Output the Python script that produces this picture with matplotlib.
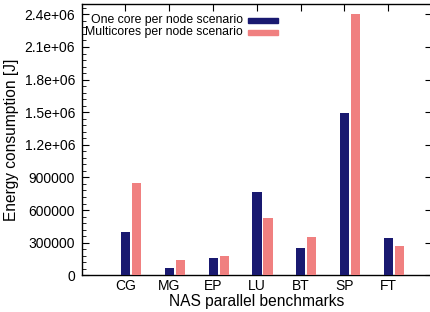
import numpy as np
import matplotlib
matplotlib.use('Agg')
import matplotlib.pyplot as plt
from matplotlib.patches import Rectangle

plt.rcParams['font.family'] = ['Liberation Sans', 'DejaVu Sans']

benchmarks = ['CG', 'MG', 'EP', 'LU', 'BT', 'SP', 'FT']
one_core = [400000, 67000, 159000, 767000, 251000, 1494000, 343000]
multi_core = [850000, 141000, 178000, 528000, 353000, 2400000, 270000]
series_names = ['One core per node scenario', 'Multicores per node scenario']
colors = ['#191970', '#f08080']

yticks = [0, 300000, 600000, 900000, 1200000, 1500000, 1800000, 2100000, 2400000]
ylabels = ['0', '300000', '600000', '900000', '1.2e+06', '1.5e+06',
           '1.8e+06', '2.1e+06', '2.4e+06']

fig = plt.figure(figsize=(4.3, 3.12), dpi=100)
ax = fig.add_axes([81.7 / 430, (312 - 275.3) / 312, 350.3 / 430, 271.8 / 312])

x = np.arange(len(benchmarks))
w = 0.21
ax.bar(x + 0.005, one_core, w, color=colors[0], zorder=3)
ax.bar(x + 0.255, multi_core, w, color=colors[1], zorder=3)

ax.set_xlim(-1, 7)
ax.set_ylim(0, 2.5e6)
ax.set_xticks(x)
ax.set_xticklabels(benchmarks, fontsize=10)
ax.set_yticks(yticks)
ax.set_yticklabels(ylabels, fontsize=10)
ax.set_yticks(np.arange(0, 2.5e6, 60000), minor=True)
ax.tick_params(axis='both', which='major', direction='in', length=5, width=0.8,
               top=True, right=True)
ax.tick_params(axis='y', which='major', pad=4.8)
ax.tick_params(axis='x', which='major', pad=3)
ax.tick_params(axis='y', which='minor', direction='in', length=3, width=0.6,
               left=True, right=False)
ax.tick_params(axis='x', which='minor', bottom=False, top=False)
for s in ax.spines.values():
    s.set_linewidth(1.0)

ax.set_xlabel('NAS parallel benchmarks', fontsize=11.2, labelpad=0.5)
ax.set_ylabel('Energy consumption [J]', fontsize=11.2, labelpad=4)

# legend in gnuplot style: right-aligned text followed by a colour key
for i, (name, c) in enumerate(zip(series_names, colors)):
    yy = 1 - (17 + 12 * i) / 271.8
    ax.text((243 - 81.7) / 350.3, yy, name, transform=ax.transAxes,
            ha='right', va='center', fontsize=8.8)
    ax.add_patch(Rectangle(((248 - 81.7) / 350.3, yy - 2.5 / 271.8),
                           30 / 350.3, 5 / 271.8, transform=ax.transAxes,
                           color=c, clip_on=False, zorder=4))

fig.savefig('out.png', dpi=100)
